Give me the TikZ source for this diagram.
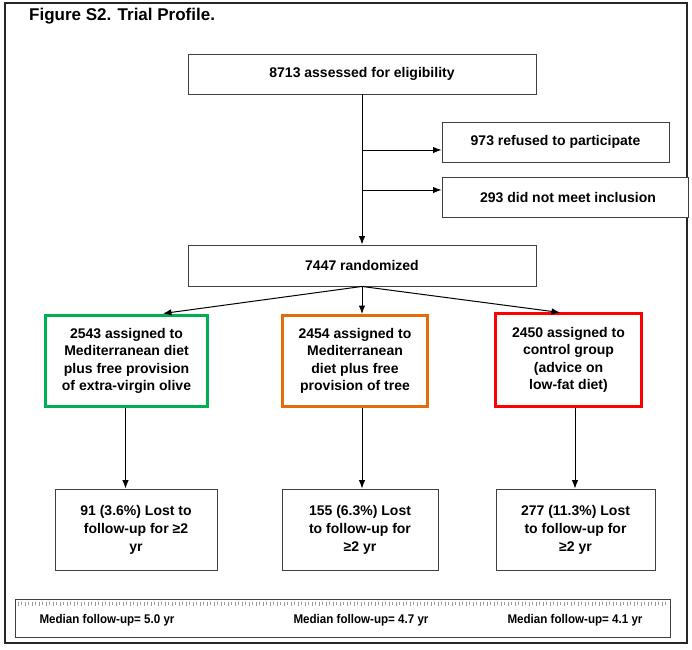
\documentclass[tikz,border=0pt]{standalone}
\usepackage{fontspec}
\setmainfont{Liberation Sans}
\usetikzlibrary{arrows.meta}
\definecolor{grpgreen}{HTML}{00B050}
\definecolor{grporange}{HTML}{E46C0A}
\definecolor{grpred}{HTML}{FF0000}
\begin{document}
\begin{tikzpicture}[x=1pt,y=-1pt,
  plain/.style={draw=black!75, line width=0.9pt, fill=white, align=center,
    font=\bfseries\fontsize{14}{18}\selectfont, inner sep=0pt},
  grp/.style={line width=3pt, fill=white, align=center,
    font=\bfseries\fontsize{14}{17.4}\selectfont, inner sep=0pt},
  arr/.style={-{Latex[length=8.5pt,width=6.5pt]}, line width=1pt},
  medtxt/.style={font=\bfseries\fontsize{12.6}{14}\selectfont, inner sep=0pt},
]
\useasboundingbox (0,0) rectangle (692,649);
\draw[line width=1.6pt, black!85] (5,3) rectangle (687,643);
\node[anchor=west, inner sep=0pt, font=\bfseries\fontsize{17}{20}\selectfont] (title) at (29,16) {Figure S2. Trial Profile.};

\node[plain, minimum width=348pt, minimum height=40pt] (assess) at (362,74) {\raisebox{-1pt}{8713 assessed for eligibility}};
\node[plain, minimum width=227pt, minimum height=40pt] (refused) at (555.5,142) {973 refused to participate};
\node[plain, minimum width=246pt, minimum height=40pt] (dnm) at (565,197) {\hspace*{6pt}293 did not meet inclusion};
\node[plain, minimum width=348pt, minimum height=41pt] (rand) at (362,265.5) {7447 randomized};

\node[grp, draw=grpgreen, minimum width=162pt, minimum height=91pt] (g1) at (126.5,361) {2543 assigned to\\Mediterranean diet\\plus free provision\\of extra-virgin olive};
\node[grp, draw=grporange, minimum width=145pt, minimum height=91pt] (g2) at (355,361) {2454 assigned to\\Mediterranean\\diet plus free\\provision of tree};
\node[grp, draw=grpred, minimum width=146pt, minimum height=93pt] (g3) at (568.5,360) {2450 assigned to\\control group\\(advice on\\low-fat diet)};

\node[plain, minimum width=162pt, minimum height=81pt] (l1) at (136,529.5) {91 (3.6\%) Lost to\\follow-up for ≥2\\yr};
\node[plain, minimum width=156pt, minimum height=81pt] (l2) at (360,529.5) {155 (6.3\%) Lost\\to follow-up for\\≥2 yr};
\node[plain, minimum width=159pt, minimum height=81pt] (l3) at (575.5,529.5) {277 (11.3\%) Lost\\to follow-up for\\≥2 yr};

% trunk and side arrows
\draw[arr] (assess.south) -- (rand.north);
\coordinate (j1) at (362,150);
\coordinate (j2) at (362,190);
\draw[arr] (j1) -- (j1 -| refused.west);
\draw[arr] (j2) -- (j2 -| dnm.west);

% randomization arrows
\coordinate (t1) at (163,313.5);
\coordinate (t3) at (560,312.5);
\draw[arr] (rand.south) -- (t1);
\draw[arr] (rand.south) -- (rand.south |- g2.north);
\draw[arr] (rand.south) -- (t3);

% follow-up arrows
\coordinate (b1) at (125.5,361);
\coordinate (b3) at (575,361);
\draw[arr] (b1 |- g1.south) -- (b1 |- l1.north);
\draw[arr] (rand.south |- g2.south) -- (rand.south |- l2.north);
\draw[arr] (b3 |- g3.south) -- (b3 |- l3.north);

% median follow-up strip
\node[draw=black!75, line width=0.8pt, minimum width=655pt, minimum height=38pt, inner sep=0pt] (strip) at (342.5,618) {};
\foreach \i in {0,...,185} {
  \draw[black!40, line width=0.5pt] ({18+\i*3.5},601.5) -- ++(0,{mod(\i,2)==0 ? 4 : 3});
}
\node[medtxt] (m1) at (107,620) {\scalebox{0.92}[1]{Median follow-up= 5.0 yr}};
\node[medtxt] (m2) at (361,620) {\scalebox{0.92}[1]{Median follow-up= 4.7 yr}};
\node[medtxt] (m3) at (575,620) {\scalebox{0.92}[1]{Median follow-up= 4.1 yr}};
\end{tikzpicture}
\end{document}
